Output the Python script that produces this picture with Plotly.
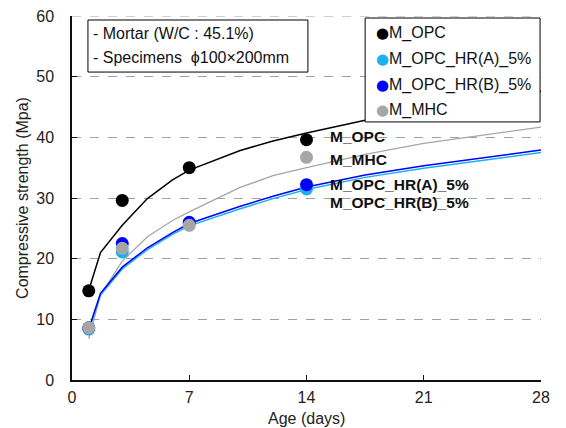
import plotly.graph_objects as go

# ---- data ----
test_days = [1, 3, 7, 14]
opc = [14.7, 29.6, 35.0, 39.6]
hr_a = [8.4, 21.1, 25.8, 31.5]
hr_b = [8.6, 22.5, 26.0, 32.2]
mhc = [8.6, 21.7, 25.5, 36.7]

curve_days = [1, 1.7, 3, 4.5, 6, 7, 10, 12, 14, 17.5, 21, 24.5, 28]
opc_curve = [14.8, 21.0, 25.5, 29.9, 33.0, 34.6, 37.8, 39.4, 40.7, 42.8, 44.7, 46.2, 47.6]
hr_b_curve = [8.4, 14.3, 18.6, 21.8, 24.3, 25.8, 28.6, 30.3, 31.8, 33.8, 35.3, 36.6, 37.9]
hr_a_curve = [8.2, 14.0, 18.3, 21.5, 24.0, 25.4, 28.2, 29.9, 31.4, 33.4, 34.9, 36.2, 37.5]
mhc_curve = [6.8, 14.0, 19.6, 23.6, 26.3, 27.7, 31.7, 33.7, 35.0, 37.2, 39.0, 40.4, 41.7]

series_names = ["M_OPC", "M_OPC_HR(A)_5%", "M_OPC_HR(B)_5%", "M_MHC"]
colors = ["#000000", "#1ab2ee", "#0000ff", "#a6a6a6"]
x_ticks = [0, 7, 14, 21, 28]
y_ticks = [0, 10, 20, 30, 40, 50, 60]
y_max = 60
info_lines = ["- Mortar (W/C : 45.1%)", "- Specimens  ϕ100×200mm"]
label_order = ["M_OPC", "M_MHC", "M_OPC_HR(A)_5%", "M_OPC_HR(B)_5%"]
x_title = "Age (days)"
y_title = "Compressive strength (Mpa)"

FONT = "Liberation Sans, Arial, sans-serif"

fig = go.Figure()

# fitted curves
curves = [(opc_curve, colors[0], 1.5), (mhc_curve, colors[3], 1.3),
          (hr_a_curve, colors[1], 1.5), (hr_b_curve, colors[2], 1.5)]
for yv, c, w in curves:
    fig.add_trace(go.Scatter(x=curve_days, y=yv, mode="lines",
                             line=dict(color=c, width=w), showlegend=False,
                             hoverinfo="skip"))

# measured points
for name, yv, c in zip(series_names, [opc, hr_a, hr_b, mhc], colors):
    fig.add_trace(go.Scatter(x=test_days, y=yv, mode="markers", name=name,
                             marker=dict(color=c, size=13, line=dict(width=0)),
                             showlegend=False))

shapes = []
annotations = []

# top gridline (at the range edge)
shapes.append(dict(type="line", xref="paper", yref="y", x0=0, x1=1, y0=y_max, y1=y_max,
                   line=dict(color="#a0a0a0", width=1, dash="dash"), layer="below"))

# info box
shapes.append(dict(type="rect", xref="paper", yref="paper", x0=0.034, x1=0.503,
                   y0=0.846, y1=0.989, line=dict(color="black", width=1),
                   fillcolor="white", layer="above"))
for txt, yy in zip(info_lines, [0.953, 0.885]):
    annotations.append(dict(xref="paper", yref="paper", x=0.041, y=yy, text=txt,
                            showarrow=False, xanchor="left", yanchor="middle",
                            font=dict(family=FONT, size=16, color="#111")))

# legend box
shapes.append(dict(type="rect", xref="paper", yref="paper", x0=0.625, x1=0.998,
                   y0=0.709, y1=0.9945, line=dict(color="black", width=1),
                   fillcolor="white", layer="above"))
for name, c, yy in zip(series_names, colors, [0.953, 0.883, 0.810, 0.741]):
    annotations.append(dict(xref="paper", yref="paper", x=0.661, y=yy, text="●",
                            showarrow=False, xanchor="center", yanchor="middle",
                            font=dict(family="DejaVu Sans", size=15, color=c)))
    annotations.append(dict(xref="paper", yref="paper", x=0.671, y=yy, text=name,
                            showarrow=False, xanchor="left", yanchor="middle",
                            font=dict(family=FONT, size=16, color="#111")))

# series labels
for name, yy in zip(label_order, [0.668, 0.605, 0.536, 0.487]):
    annotations.append(dict(xref="paper", yref="paper", x=0.545, y=yy,
                            text="<b>%s</b>" % name, showarrow=False,
                            xanchor="left", yanchor="middle",
                            font=dict(family=FONT, size=15.5, color="#111")))

# x axis title
annotations.append(dict(xref="paper", yref="paper", x=0.5, y=-0.106, text=x_title,
                        showarrow=False, xanchor="center", yanchor="middle",
                        font=dict(family=FONT, size=16, color="#222")))

# the page body adds an 8 px offset, so the figure is 8 px smaller and shifted
fig.update_layout(
    width=558, height=420,
    margin=dict(l=64, r=25, t=8, b=48),
    paper_bgcolor="white", plot_bgcolor="white",
    font=dict(family=FONT, size=16, color="#222"),
    shapes=shapes, annotations=annotations,
    showlegend=False,
)
fig.update_xaxes(range=[0, 28], tickvals=x_ticks, ticktext=[str(v) for v in x_ticks],
                 showline=True, linecolor="#111", linewidth=1.5,
                 ticks="inside", ticklen=5, tickwidth=1.3, tickcolor="#111",
                 showgrid=False, zeroline=False, automargin=False,
                 ticklabelstandoff=2, ticklabeloverflow="allow")
fig.update_yaxes(range=[0, y_max], tickvals=y_ticks, ticktext=[str(v) for v in y_ticks],
                 showline=True, linecolor="#111", linewidth=1.5,
                 ticks="inside", ticklen=5, tickwidth=1.3, tickcolor="#111",
                 showgrid=True, gridcolor="#a0a0a0", griddash="dash", gridwidth=1,
                 zeroline=False, automargin=False,
                 title=dict(text=y_title, standoff=4, font=dict(size=16)),
                 ticklabelstandoff=13, ticklabeloverflow="allow")

fig.write_html("out.html")
